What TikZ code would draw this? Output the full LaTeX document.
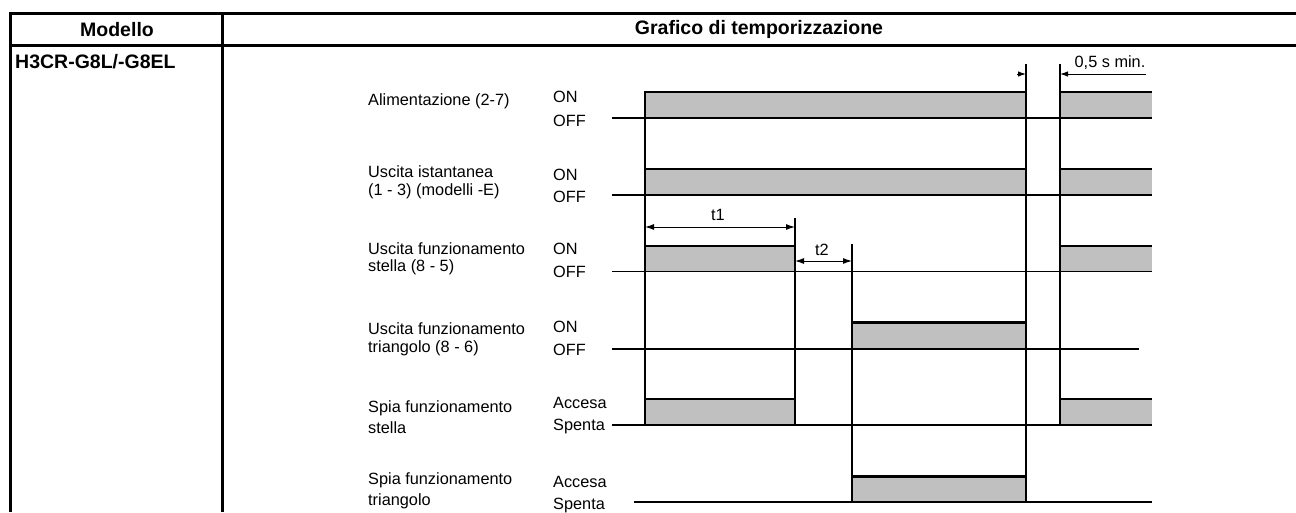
\documentclass[tikz,border=0pt]{standalone}
\usepackage{fontspec}
\setmainfont{Liberation Sans}
\usetikzlibrary{arrows.meta}
\definecolor{pulsegray}{HTML}{C0C0C0}
\begin{document}
\begin{tikzpicture}[x=1pt,y=-1pt,
  tab/.style={line width=3pt},
  hdr/.style={font=\fontsize{19.5}{22}\selectfont\bfseries, inner sep=0pt},
  lbl/.style={font=\fontsize{16.3}{18}\selectfont, inner sep=0pt, anchor=west, align=left},
  lvl/.style={font=\fontsize{16.3}{18}\selectfont, inner sep=0pt, anchor=west},
  dimlbl/.style={font=\fontsize{16.3}{18}\selectfont, inner sep=0pt},
  baseln/.style={line width=1.2pt},
  vln/.style={line width=1.2pt},
  pulse/.style={fill=pulsegray, draw=none},
  onl/.style={line width=2.4pt},
  dimarr/.style={line width=1pt, {Latex[length=9pt,width=6pt]}-{Latex[length=9pt,width=6pt]}},
  onearr/.style={line width=1pt, -{Latex[length=8pt,width=5.5pt]}},
]
\useasboundingbox (0,0) rectangle (1296,512);

% ---- table ----
\draw[tab] (1296,13.5) -- (10,13.5) -- (10,512);
\draw[tab] (10,45) -- (1296,45);
\draw[tab] (222,13.5) -- (222,512);
\node[hdr] (hmod) at (117,29.5) {Modello};
\node[hdr] (hgraf) at (759,29.5) {Grafico di temporizzazione};
\node[hdr, anchor=west] (model) at (15,61.5) {H3CR-G8L/-G8EL};

% ---- row labels ----
\node[lbl, font=\fontsize{16.3}{18}\selectfont] (l1) at (368,101) {Alimentazione (2-7)};
\node[lbl, font=\fontsize{16.3}{18}\selectfont] (l2) at (368,182) {Uscita istantanea\\(1 - 3) (modelli -E)};
\node[lbl, font=\fontsize{16.3}{17}\selectfont] (l3) at (368,258.5) {Uscita funzionamento\\stella (8 - 5)};
\node[lbl, font=\fontsize{16.3}{18}\selectfont] (l4) at (368,339) {Uscita funzionamento\\triangolo (8 - 6)};
\node[lbl, font=\fontsize{16.3}{21}\selectfont] (l5) at (368,417) {Spia funzionamento\\stella};
\node[lbl, font=\fontsize{16.3}{21}\selectfont] (l6) at (368,490.5) {Spia funzionamento\\triangolo};

% ---- level labels ----
\node[lvl] (on1) at (553,97) {ON};
\node[lvl] (off1) at (553,121) {OFF};
\node[lvl] (on2) at (553,175) {ON};
\node[lvl] (off2) at (553,197) {OFF};
\node[lvl] (on3) at (553,249) {ON};
\node[lvl] (off3) at (553,272) {OFF};
\node[lvl] (on4) at (553,327) {ON};
\node[lvl] (off4) at (553,350) {OFF};
\node[lvl] (on5) at (553,403) {Accesa};
\node[lvl] (off5) at (553,426) {Spenta};
\node[lvl] (on6) at (553,482) {Accesa};
\node[lvl] (off6) at (553,505) {Spenta};

% ---- pulses (fills) ----
\fill[pulse] (645,92) rectangle (1026,118);
\fill[pulse] (1060,92) rectangle (1152,118);
\fill[pulse] (645,169) rectangle (1026,195);
\fill[pulse] (1060,169) rectangle (1152,195);
\fill[pulse] (645,246) rectangle (795,271.5);
\fill[pulse] (1060,246) rectangle (1152,271.5);
\fill[pulse] (852,322.5) rectangle (1026,349);
\fill[pulse] (645,399) rectangle (795,425);
\fill[pulse] (1060,399) rectangle (1152,425);
\fill[pulse] (852,476.5) rectangle (1026,502);

% ---- ON levels (thick) ----
\draw[onl] (645,92) -- (1026,92);
\draw[onl] (1060,92) -- (1152,92);
\draw[onl] (645,169) -- (1026,169);
\draw[onl] (1060,169) -- (1152,169);
\draw[onl] (645,246) -- (795,246);
\draw[onl] (1060,246) -- (1152,246);
\draw[onl] (852,322.5) -- (1026,322.5);
\draw[onl] (645,399) -- (795,399);
\draw[onl] (1060,399) -- (1152,399);
\draw[onl] (852,476.5) -- (1026,476.5);

% ---- OFF baselines ----
\draw[baseln] (612,118) -- (1152,118);
\draw[baseln] (612,195) -- (1152,195);
\draw[baseln] (612,271.5) -- (1152,271.5);
\draw[baseln] (612,349) -- (1139,349);
\draw[baseln] (612,425) -- (1152,425);
\draw[baseln] (634,502) -- (1152,502);

% ---- vertical transition lines ----
\draw[vln] (645,91) -- (645,425);
\draw[vln] (795,218) -- (795,425);
\draw[vln] (852,244) -- (852,502);
\draw[vln] (1026,64) -- (1026,502);
\draw[vln] (1060,64) -- (1060,425);

% ---- dimensions ----
\coordinate (t1a) at (645,227);
\coordinate (t1b) at (795,227);
\coordinate (t2a) at (795,261);
\coordinate (t2b) at (852,261);
\coordinate (ma) at (1026,74);
\coordinate (mb) at (1060,74);
\coordinate (mal) at (1017,74);
\coordinate (mbr) at (1146,74);
\draw[dimarr] (t1a) -- (t1b);
\draw[dimarr] (t2a) -- (t2b);
\draw[onearr] (mal) -- (ma);
\draw[onearr] (mbr) -- (mb);
\node[dimlbl] (t1) at (718,215) {t1};
\node[dimlbl] (t2) at (822,250) {t2};
\node[dimlbl] (mn) at (1110,63) {0,5 s min.};
\end{tikzpicture}
\end{document}
